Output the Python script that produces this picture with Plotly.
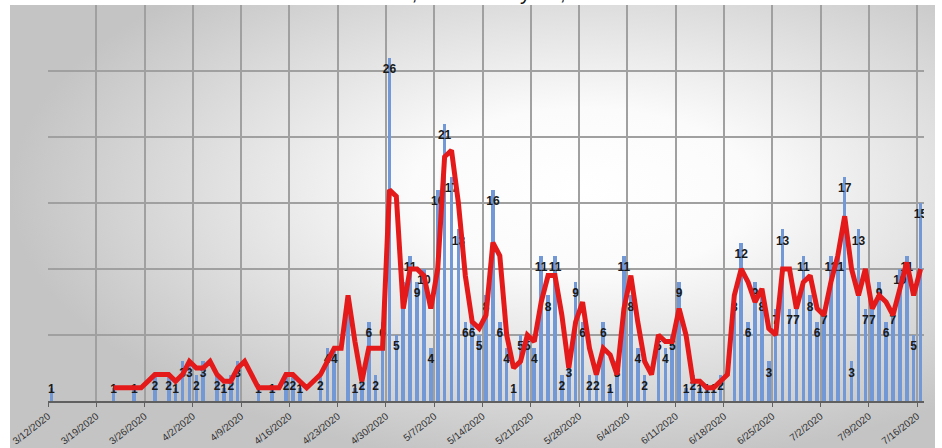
import base64
import pandas as pd
import plotly.graph_objects as go

N = None
start_date = "2020-03-12"
title_text = "March 12, 2020 \u2013 July 16, 2020"

# daily counts (None = no bar), one row per week starting 3/12
cases = [
    1, N, N, N, N, N, N,
    N, N, 1, N, N, 1, N,
    N, 2, N, 2, 1, 3, 3,
    2, 3, N, 2, 1, 2, 3,
    N, N, 1, N, 1, N, 2,
    2, 1, N, N, 2, 4, 4,
    N, 8, 1, 2, 6, 2, 6,
    26, 5, 9, 11, 9, 10, 4,
    16, 21, 17, 13, 6, 6, 5,
    8, 16, 6, 4, 1, 5, 5,
    4, 11, 8, 11, 2, 3, 9,
    6, 2, 2, 6, 1, 3, 11,
    8, 4, 2, N, 5, 4, 5,
    9, 1, 2, 1, 1, 1, 2,
    N, 8, 12, 6, 9, 8, 3,
    7, 13, 7, 7, 11, 8, 6,
    7, 11, 11, 17, 3, 13, 7,
    7, 9, 6, 7, 10, 11, 5,
    15,
]

# red trend line values (None = no point)
trend = [
    N, N, N, N, N, N, N,
    N, N, 1, 1, N, 1, 1,
    N, 2, 2, 2, 1.5, 2, 3,
    2.5, 2.5, 3, 2, 1.5, 1.5, 2.5,
    3, N, 1, 1, 1, 1, 2,
    2, 1.5, 1, N, 2, 3, 4,
    4, 8, 4.5, 1.5, 4, 4, 4,
    16, 15.5, 7, 10, 10, 9.5, 7,
    10, 18.5, 19, 15, 9.5, 6, 5.5,
    6.5, 12, 11, 5, 2.5, 3, 5,
    4.5, 7.5, 9.5, 9.5, 6.5, 2.5, 6,
    7.5, 4, 2, 4, 3.5, 2, 7,
    9.5, 6, 3, 2, 5, 4.5, 4.5,
    7, 5, 1.5, 1.5, 1, 1, 1.5,
    2, 8, 10, 9, 7.5, 8.5, 5.5,
    5, 10, 10, 7, 9, 9.5, 7,
    6.5, 9, 11, 14, 10, 8, 10,
    7, 8, 7.5, 6.5, 8.5, 10.5, 8,
    10,
]

days = pd.date_range(start_date, periods=len(cases), freq="D")
xs = days + pd.Timedelta(hours=12)
DAY_MS = 86400000

lab_x = [x for x, v in zip(xs, cases) if v is not None]
lab_v = [v for v in cases if v is not None]
lab_y = [max(v - 0.92, 0.83) for v in lab_v]

fig = go.Figure()
fig.add_trace(go.Bar(
    x=xs, y=cases, width=0.52 * DAY_MS,
    marker=dict(color="#7398d6", line=dict(width=0)),
    hoverinfo="skip", showlegend=False,
))
fig.add_trace(go.Scatter(
    x=lab_x, y=lab_y, mode="text", text=[str(v) for v in lab_v],
    textposition="middle center",
    textfont=dict(family="Liberation Sans", size=12, color="#1a1a1a", weight="bold"),
    hoverinfo="skip", showlegend=False,
))
fig.add_trace(go.Scatter(
    x=xs, y=trend, mode="lines", connectgaps=True,
    line=dict(color="#e41a1a", width=5),
    hoverinfo="skip", showlegend=False,
))

W, H = 942, 448
L, R, T, B = 48, 18, 5, 47
pw, ph = W - L - R, H - T - B

bx0, bx1, by0, by1 = 10, 935, 5, 448
gw, gh = bx1 - bx0, by1 - by0
svg = (
    f'<svg xmlns="http://www.w3.org/2000/svg" width="{gw}" height="{gh}" '
    f'viewBox="0 0 {gw} {gh}" preserveAspectRatio="none">'
    '<defs><radialGradient id="g" cx="0.62" cy="0.42" r="0.62">'
    '<stop offset="0" stop-color="#ffffff"/>'
    '<stop offset="0.3" stop-color="#fbfbfb"/>'
    '<stop offset="1" stop-color="#c4c4c4"/>'
    '</radialGradient></defs>'
    f'<rect width="{gw}" height="{gh}" fill="url(#g)"/></svg>'
)
src = "data:image/svg+xml;base64," + base64.b64encode(svg.encode()).decode()

fig.update_layout(
    width=W, height=H,
    margin=dict(l=L, r=R, t=T, b=B, autoexpand=False),
    paper_bgcolor="white",
    plot_bgcolor="rgba(0,0,0,0)",
    bargap=0,
    hovermode=False,
    images=[dict(
        source=src, xref="paper", yref="paper",
        x=(bx0 - L) / pw, y=1 + (T - by0) / ph,
        sizex=gw / pw, sizey=gh / ph,
        xanchor="left", yanchor="top", sizing="stretch", layer="below",
    )],
    xaxis=dict(
        type="date", automargin=False,
        range=["2020-03-12", "2020-07-17"],
        tick0="2020-03-12", dtick=7 * DAY_MS,
        tickformat="%-m/%-d/%Y", tickangle=-38,
        tickfont=dict(family="Liberation Sans", size=10, color="#333333"),
        showgrid=True, gridcolor="#a0a0a0", gridwidth=1.5,
        ticks="outside", ticklen=4, tickcolor="#606060",
        showline=True, linecolor="#606060", linewidth=1.5,
        zeroline=False,
    ),
    yaxis=dict(
        automargin=False,
        range=[0, 30], dtick=5, showticklabels=False,
        showgrid=True, gridcolor="#a0a0a0", gridwidth=1.5,
        zeroline=False, showline=False, ticks="",
    ),
    annotations=[dict(
        text=title_text, xref="paper", yref="paper",
        x=(471 - L) / pw, y=1 + (T - 6.5) / ph, yanchor="bottom", xanchor="center",
        showarrow=False,
        font=dict(family="Liberation Sans", size=21, color="#111111"),
    )],
)

fig.write_html(
    "out.html",
    config={"displayModeBar": False},
    post_script="document.body.style.margin='0';document.body.style.overflow='hidden';",
)
